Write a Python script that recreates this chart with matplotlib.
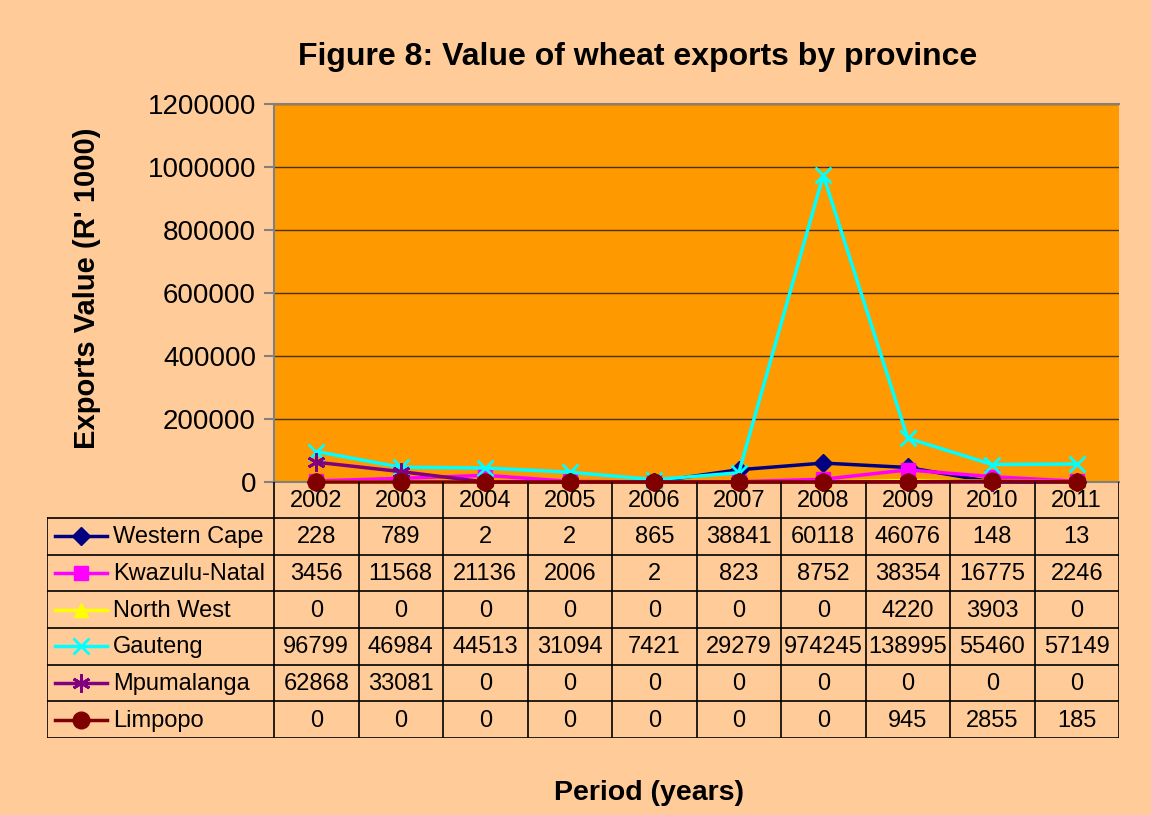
import numpy as np
import matplotlib.pyplot as plt

plt.rcParams['font.family'] = ['Liberation Sans', 'DejaVu Sans']

years = ['2002', '2003', '2004', '2005', '2006', '2007', '2008', '2009', '2010', '2011']
provinces = ['Western Cape', 'Kwazulu-Natal', 'North West', 'Gauteng', 'Mpumalanga', 'Limpopo']

western_cape = [228, 789, 2, 2, 865, 38841, 60118, 46076, 148, 13]
kwazulu_natal = [3456, 11568, 21136, 2006, 2, 823, 8752, 38354, 16775, 2246]
north_west = [0, 0, 0, 0, 0, 0, 0, 4220, 3903, 0]
gauteng = [96799, 46984, 44513, 31094, 7421, 29279, 974245, 138995, 55460, 57149]
mpumalanga = [62868, 33081, 0, 0, 0, 0, 0, 0, 0, 0]
limpopo = [0, 0, 0, 0, 0, 0, 0, 945, 2855, 185]

series = [western_cape, kwazulu_natal, north_west, gauteng, mpumalanga, limpopo]
colors = ['#000080', '#FF00FF', '#FFFF00', '#00FFFF', '#800080', '#800000']
markers = ['D', 's', '^', 'x', (6, 2, 0), 'o']
msizes = [9, 10, 10, 12, 13, 12]

W, H = 1151, 815
fig = plt.figure(figsize=(W / 100, H / 100), dpi=100, facecolor='#FFCC99')

# plot area (pixel layout)
px0, px1, py0, py1 = 274, 1119, 104, 482
ax = fig.add_axes([px0 / W, 1 - py1 / H, (px1 - px0) / W, (py1 - py0) / H])
ax.set_facecolor('#FF9900')
x = np.arange(len(years))
for vals, c, m, ms in zip(series, colors, markers, msizes):
    ax.plot(x, vals, color=c, marker=m, markersize=ms, lw=2.5, mew=2 if m in ('x', (6, 2, 0)) else 1,
            mec=c, mfc=c, clip_on=False, zorder=3)
ax.set_xlim(-0.5, len(years) - 0.5)
ax.set_ylim(0, 1200000)
ax.set_yticks(np.arange(0, 1200001, 200000))
ax.set_yticklabels([str(v) for v in range(0, 1200001, 200000)], fontsize=20)
ax.set_xticks([])
ax.yaxis.grid(True, color='#4a3010', lw=1)
ax.set_axisbelow(True)
for s in ['left', 'top', 'bottom']:
    ax.spines[s].set_color('#808080')
    ax.spines[s].set_linewidth(1.5)
ax.spines['right'].set_visible(False)
ax.tick_params(axis='y', length=7, width=1.5, color='#808080', pad=6)

# data table below the plot
tx0, ty1 = 47, 738
tab = fig.add_axes([tx0 / W, 1 - ty1 / H, (px1 - tx0) / W, (ty1 - py1) / H])
tab.set_xlim(tx0, px1)
tab.set_ylim(ty1, py1)
tab.axis('off')
tab.patch.set_alpha(0)
col_w = (px1 - px0) / len(years)
hdr_b = 518
row_h = (ty1 - hdr_b) / len(provinces)
lc = 'black'
for i in range(len(years) + 1):
    xx = px0 + i * col_w
    tab.plot([xx, xx], [py1, ty1], color=lc, lw=1.2)
tab.plot([tx0, tx0], [hdr_b, ty1], color=lc, lw=1.2)
for j in range(len(provinces) + 1):
    yy = hdr_b + j * row_h
    tab.plot([tx0, px1], [yy, yy], color=lc, lw=1.2)
for i, yr in enumerate(years):
    tab.text(px0 + (i + 0.5) * col_w, (py1 + hdr_b) / 2 + 1, yr, ha='center', va='center', fontsize=17)
for j, (name, vals) in enumerate(zip(provinces, series)):
    yc = hdr_b + (j + 0.5) * row_h
    tab.plot([55, 107], [yc, yc], color=colors[j], lw=2.5)
    tab.plot([81], [yc], color=colors[j], marker=markers[j], markersize=msizes[j],
             mew=2 if markers[j] in ('x', (6, 2, 0)) else 1)
    tab.text(113, yc + 1, name, ha='left', va='center', fontsize=17)
    for i, v in enumerate(vals):
        tab.text(px0 + (i + 0.5) * col_w, yc + 1, str(v), ha='center', va='center', fontsize=17)

fig.text(638 / W, 1 - 57 / H, 'Figure 8: Value of wheat exports by province', ha='center', va='center',
         fontsize=23, fontweight='bold')
fig.text(87 / W, 1 - 288 / H, "Exports Value (R' 1000)", ha='center', va='center', rotation=90,
         fontsize=21, fontweight='bold')
fig.text(649 / W, 1 - 793 / H, 'Period (years)', ha='center', va='center', fontsize=20.5, fontweight='bold')

plt.savefig('out.png', dpi=100, facecolor=fig.get_facecolor())
